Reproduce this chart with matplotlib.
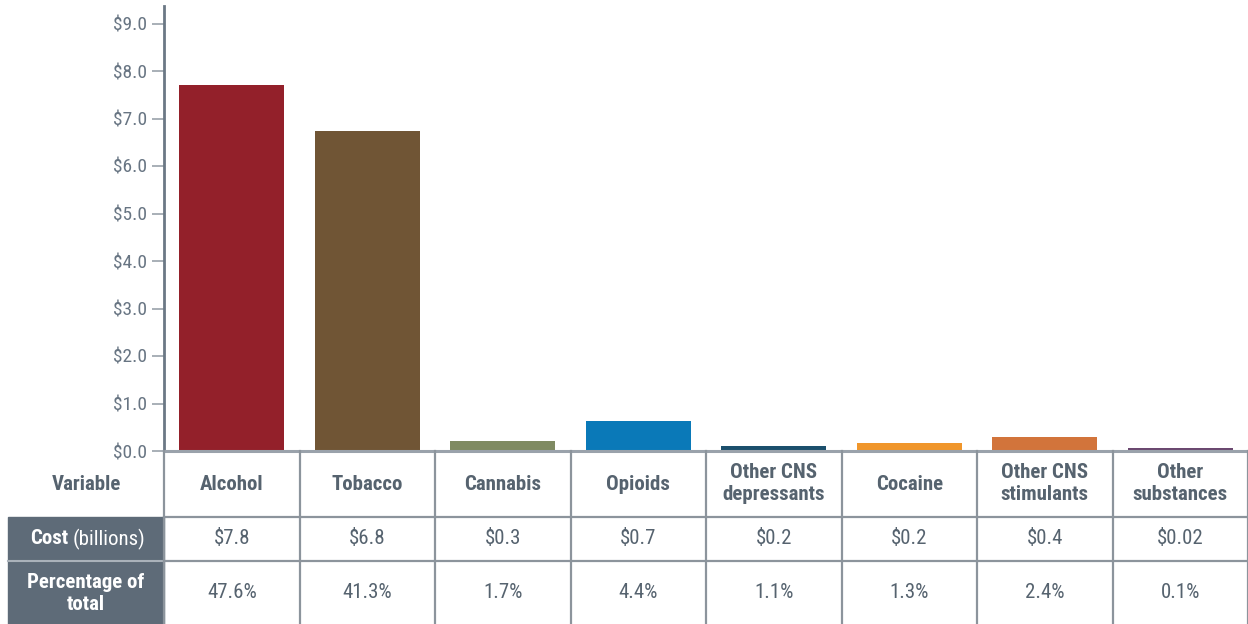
import matplotlib
matplotlib.use('Agg')
import matplotlib.pyplot as plt
from matplotlib import font_manager
from matplotlib.patches import Rectangle

# pick a narrow sans if one is installed
names = {f.name for f in font_manager.fontManager.ttflist}
fam = 'Roboto'
for f in ['Roboto Condensed', 'Liberation Sans Narrow', 'Roboto']:
    if f in names:
        fam = f
        break
plt.rcParams['font.family'] = [fam, 'DejaVu Sans']

categories = ['Alcohol', 'Tobacco', 'Cannabis', 'Opioids', 'Other CNS\ndepressants',
              'Cocaine', 'Other CNS\nstimulants', 'Other\nsubstances']
bar_values = [7.7, 6.74, 0.21, 0.63, 0.1, 0.17, 0.29, 0.06]
cost_labels = ['$7.8', '$6.8', '$0.3', '$0.7', '$0.2', '$0.2', '$0.4', '$0.02']
pct_labels = ['47.6%', '41.3%', '1.7%', '4.4%', '1.1%', '1.3%', '2.4%', '0.1%']
colors = ['#93202a', '#705535', '#7f8a62', '#0a79b8', '#1b4f6c',
          '#f0962b', '#d2743b', '#6b4870']
yticks = [0, 1, 2, 3, 4, 5, 6, 7, 8, 9]

text_col = '#56636f'
grid_col = '#8c949c'
dark_cell = '#5e6b78'
fs = 15

W, H = 1248, 624
fig = plt.figure(figsize=(W / 100, H / 100), dpi=100)

# bar chart area
x0, x1 = 164, 1248
y_top, y_base = 6, 451
ax = fig.add_axes([x0 / W, 1 - y_base / H, (x1 - x0) / W, (y_base - y_top) / H])
x = list(range(len(categories)))
ax.bar(x, bar_values, width=0.775, color=colors, zorder=2)
ax.set_xlim(-0.5, len(categories) - 0.5)
ax.set_ylim(0, (y_base - y_top) / 47.5)
ax.set_yticks(yticks)
ax.set_yticklabels(['${:.1f}'.format(v) for v in yticks], fontsize=14, color='#687583')
ax.tick_params(axis='y', length=9, width=1.2, color='#9aa2aa', pad=3)
ax.set_xticks([])
for s in ['top', 'right']:
    ax.spines[s].set_visible(False)
ax.spines['left'].set_color('#6b7885')
ax.spines['left'].set_linewidth(2)
ax.spines['bottom'].set_color('#9aa2ab')
ax.spines['bottom'].set_linewidth(2.2)
ax.spines['bottom'].set_zorder(3)

# table area, same x scale as the bars
tab = fig.add_axes([x0 / W, 0, (x1 - x0) / W, (H - y_base) / H])
tab.set_xlim(-0.5, len(categories) - 0.5)
tab.set_ylim(H, y_base)
tab.axis('off')
col_w = (x1 - x0) / len(categories)
lab_left = -0.5 - (x0 - 8) / col_w
r_head, r_cost = 517, 561

tab.add_patch(Rectangle((lab_left, r_head), -0.5 - lab_left, H - r_head,
                        color=dark_cell, clip_on=False, zorder=1))
tab.plot([lab_left, -0.5], [r_cost, r_cost], color='#aab2ba', lw=1.5,
         clip_on=False, zorder=2)
for i in range(len(categories) + 1):
    tab.plot([i - 0.5, i - 0.5], [y_base, H], color=grid_col, lw=1.6,
             clip_on=False, zorder=2)
for yy in [r_head, r_cost]:
    tab.plot([-0.5, len(categories) - 0.5], [yy, yy], color=grid_col, lw=1.6,
             clip_on=False, zorder=2)

lab_c = (lab_left - 0.5) / 2
tab.text(lab_c, (y_base + r_head) / 2, 'Variable', ha='center', va='center',
         fontsize=fs, fontweight='bold', color=text_col, clip_on=False)
tab.text(lab_c - 0.13, (r_head + r_cost) / 2, 'Cost', ha='right', va='center',
         fontsize=fs, fontweight='bold', color='white', clip_on=False)
tab.text(lab_c - 0.10, (r_head + r_cost) / 2, '(billions)', ha='left', va='center',
         fontsize=fs, color='white', clip_on=False)
tab.text(lab_c, (r_cost + H) / 2 + 1, 'Percentage of\ntotal', ha='center', va='center',
         fontsize=fs, fontweight='bold', color='white', linespacing=1.2, clip_on=False)

for i, c in enumerate(categories):
    tab.text(i, (y_base + r_head) / 2, c, ha='center', va='center', fontsize=fs,
             fontweight='bold', color=text_col, linespacing=1.2)
    tab.text(i, (r_head + r_cost) / 2, cost_labels[i], ha='center', va='center',
             fontsize=fs, color=text_col)
    tab.text(i, (r_cost + H) / 2, pct_labels[i], ha='center', va='center',
             fontsize=fs, color=text_col)

fig.savefig('out.png', dpi=100)
